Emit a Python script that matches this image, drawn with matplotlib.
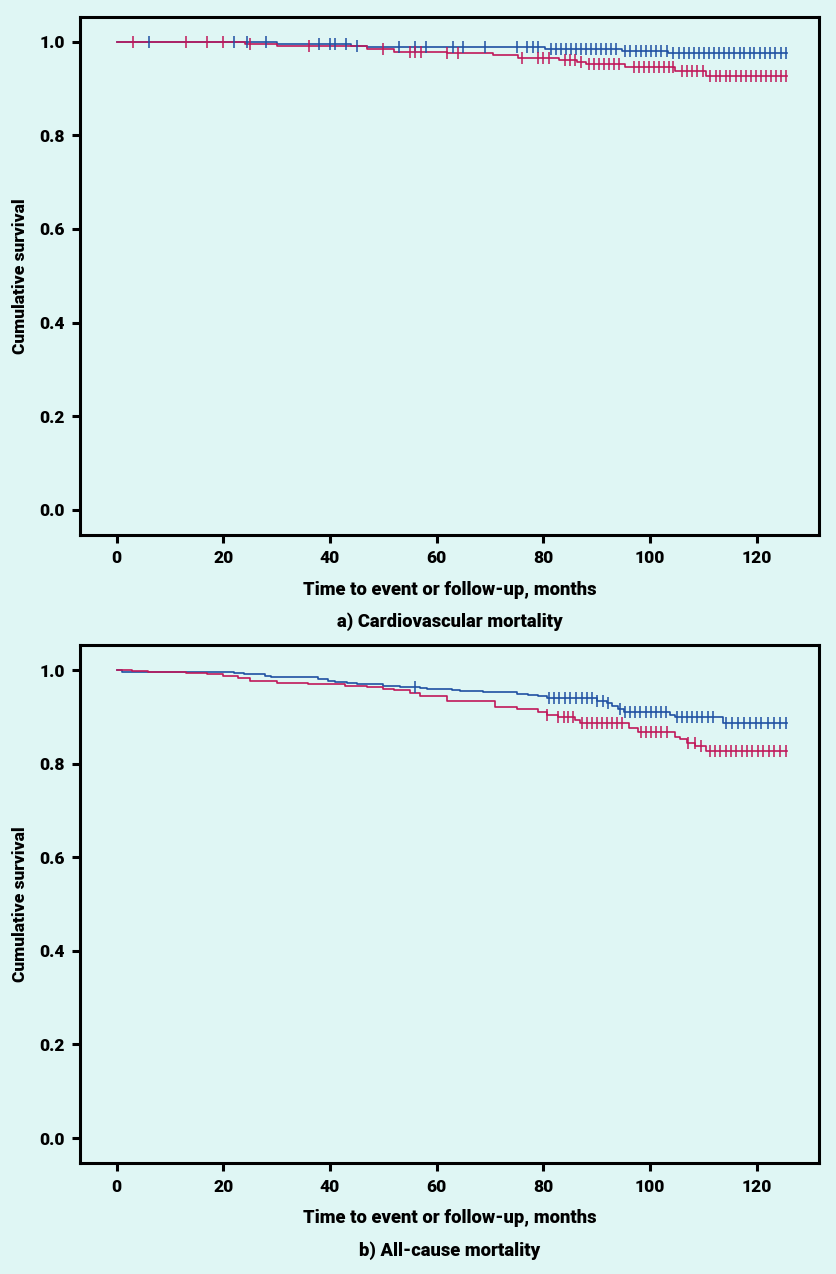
import numpy as np
import matplotlib
matplotlib.use("Agg")
import matplotlib.pyplot as plt

plt.rcParams['font.family'] = ['Roboto', 'DejaVu Sans']
plt.rcParams['font.weight'] = 'bold'

BG = '#dff6f4'
BLUE = '#1f50a2'
RED = '#c0185a'
END = 125.7
FW = 'heavy'

# ---- Panel a) Cardiovascular mortality ----
a_blue_t = [24, 30, 44, 47, 80.3, 94.7, 103.4]
a_blue_s = [0.999, 0.995, 0.991, 0.988, 0.984, 0.980, 0.976]
a_blue_c = [6, 22, 24.5, 28, 38, 40, 41, 43, 45, 53, 56, 58, 63, 65, 69, 75, 77, 78, 79,
            81.5, 82.4, 83.3, 84.3, 85.2, 86.2, 87.1, 88.0, 89.0, 89.9, 90.9, 91.8, 92.7, 93.7,
            95.3, 96.3, 97.3, 98.3, 99.2, 100.2, 101.2, 102.1, 103.1,
            104.4, 105.4, 106.3, 107.3, 108.2, 109.2, 110.1, 111.1, 112.0, 113.0, 113.9,
            114.9, 115.8, 116.8, 117.7, 118.7, 119.6, 120.6, 121.5, 122.5, 123.4, 124.5, 125.6]

a_red_t = [24, 30, 47, 52, 61.9, 70.6, 75.3, 83, 86.3, 88, 95.3, 104.7, 110.6]
a_red_s = [0.995, 0.991, 0.984, 0.979, 0.976, 0.971, 0.966, 0.962, 0.957, 0.953, 0.947, 0.938, 0.927]
a_red_c = [3, 13, 17, 20, 25, 36, 50, 55, 56, 57, 62, 64, 76, 79, 80, 81, 84, 85, 86, 87,
           88.5, 89.5, 90.4, 91.4, 92.3, 93.3, 94.2,
           97.0, 97.9, 98.9, 99.8, 100.8, 101.7, 102.7, 103.6, 104.4,
           106.0, 107.0, 107.9, 108.9, 109.9,
           111.3, 112.3, 113.2, 114.2, 115.1, 116.1, 117.0, 118.0, 118.9, 119.9, 120.8,
           121.8, 122.7, 123.7, 124.6, 125.6]

# ---- Panel b) All-cause mortality ----
b_blue_t = [1.0, 21.9, 23.8, 27.8, 29, 37.8, 39.7, 41, 43.1, 45, 50, 53.1, 56.9, 58.1, 62.8,
            64.4, 68.7, 75, 77.1, 79, 80.6, 90, 91.9, 92.8, 94, 95.2, 103.7, 104.6, 113.7]
b_blue_s = [0.997, 0.993, 0.991, 0.987, 0.986, 0.981, 0.977, 0.974, 0.972, 0.9695, 0.9665,
            0.964, 0.961, 0.959, 0.957, 0.956, 0.953, 0.949, 0.9466, 0.9445, 0.941, 0.934,
            0.930, 0.923, 0.916, 0.910, 0.905, 0.899, 0.8875]
b_blue_c = [56, 81.0, 82.0, 83.0, 84.0, 85.0, 86.2, 87.2, 88.1, 89.1, 90.0, 91.2, 92.1,
            94.3, 95.3, 96.3, 97.2, 98.2, 99.2, 100.1, 101.1, 102.1, 103.0,
            105.0, 106.0, 106.9, 107.9, 108.9, 109.8, 110.8, 111.8,
            114.2, 115.3, 116.5, 117.6, 118.7, 119.8, 120.9, 122.1, 123.2, 124.3, 125.5]

b_red_t = [2.8, 5.9, 13, 16.9, 20, 22.8, 24.9, 30, 35.9, 42.8, 46.9, 50, 51.9, 55, 56.9,
           61.9, 70.9, 75, 79, 80.6, 82.8, 85.9, 86.8, 96, 97.8, 104.6, 105.6, 106.9, 108.5, 110.6]
b_red_s = [0.998, 0.996, 0.994, 0.991, 0.987, 0.984, 0.977, 0.973, 0.970, 0.9665, 0.964,
           0.960, 0.957, 0.950, 0.944, 0.934, 0.922, 0.916, 0.911, 0.904, 0.899, 0.893,
           0.886, 0.8755, 0.868, 0.8575, 0.852, 0.8435, 0.838, 0.827]
b_red_c = [80.6, 82.8, 83.8, 84.7, 85.6, 87.2, 88.1, 89.1, 90.0, 91.0, 91.9, 92.9, 93.8, 94.8,
           98.3, 99.3, 100.2, 101.2, 102.1, 103.1,
           107.2, 108.4, 109.6,
           111.2, 112.2, 113.2, 114.2, 115.2, 116.2, 117.2, 118.2, 119.2, 120.2,
           121.2, 122.3, 123.3, 124.4, 125.5]

yticks = [0.0, 0.2, 0.4, 0.6, 0.8, 1.0]
xticks = [0, 20, 40, 60, 80, 100, 120]
ylabel = 'Cumulative survival'
xlabel = 'Time to event or follow-up, months'
titles = ['a) Cardiovascular mortality', 'b) All-cause mortality']

W, H = 837, 1274
fig = plt.figure(figsize=(W / 100, H / 100), dpi=100)
fig.patch.set_facecolor(BG)

ax_a = fig.add_axes([80 / W, 1 - 535 / H, 739 / W, 518 / H])
ax_b = fig.add_axes([80 / W, 1 - 1163.3 / H, 739 / W, 518 / H])


def km(ax, t, s, c, color):
    tt = np.concatenate([[0.0], t, [END]])
    ss = np.concatenate([[1.0], s, [s[-1]]])
    ax.step(tt, ss, where='post', color=color, lw=1.2, zorder=3)
    c = np.asarray(c)
    idx = np.searchsorted(np.asarray(t), c, side='right')
    sv = np.concatenate([[1.0], s])[idx]
    ax.plot(c, sv, linestyle='none', marker='|', markersize=8, markeredgewidth=1.1,
            color=color, zorder=4)


for ax, data in [(ax_a, [(a_blue_t, a_blue_s, a_blue_c, BLUE), (a_red_t, a_red_s, a_red_c, RED)]),
                 (ax_b, [(b_blue_t, b_blue_s, b_blue_c, BLUE), (b_red_t, b_red_s, b_red_c, RED)])]:
    ax.set_facecolor(BG)
    for t, s, c, col in data:
        km(ax, t, s, c, col)
    ax.set_xlim(-6.9, 131.7)
    ax.set_ylim(-0.054, 1.053)
    ax.set_xticks(xticks)
    ax.set_yticks(yticks)
    ax.set_xticklabels([str(v) for v in xticks])
    ax.set_yticklabels([f'{v:.1f}' for v in yticks])
    for sp in ax.spines.values():
        sp.set_linewidth(2.2)
        sp.set_color('black')
    ax.tick_params(axis='both', length=6, width=2.2, labelsize=12.5, pad=5, colors='black')
    for lab in ax.get_xticklabels() + ax.get_yticklabels():
        lab.set_fontweight(FW)
    ax.set_ylabel(ylabel, fontsize=12.5, fontweight=FW)
    ax.yaxis.set_label_coords(-0.071, 0.5)

cx = 0.5 * (80 + 819) / W
for y, s in [(590, xlabel), (622, titles[0]), (1218, xlabel), (1251, titles[1])]:
    fig.text(cx, 1 - y / H, s, ha='center', va='center', fontsize=13.2, fontweight=FW)

fig.savefig('out.png', dpi=100, facecolor=BG)
